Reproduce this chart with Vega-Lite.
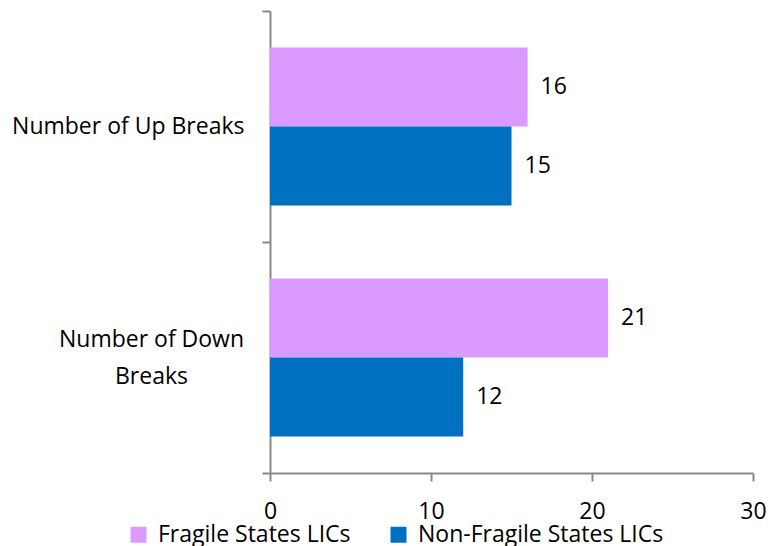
{
  "$schema": "https://vega.github.io/schema/vega-lite/v6.json",
  "width": 483,
  "height": 462,
  "autosize": {"type": "none"},
  "padding": {"left": 270, "top": 11, "right": 25, "bottom": 73},
  "background": "white",
  "config": {
    "font": "Open Sans",
    "view": {"stroke": null},
    "axis": {"grid": false, "domainColor": "#888888", "tickColor": "#888888", "domainWidth": 2, "tickWidth": 2, "tickSize": 8, "labelFont": "Open Sans", "labelFontSize": 23, "labelColor": "#000000", "title": null}
  },
  "data": {
    "values": [
      {"category": "Number of Up Breaks", "group": "Fragile States LICs", "value": 16},
      {"category": "Number of Up Breaks", "group": "Non-Fragile States LICs", "value": 15},
      {"category": "Number of Down Breaks", "group": "Fragile States LICs", "value": 21},
      {"category": "Number of Down Breaks", "group": "Non-Fragile States LICs", "value": 12}
    ]
  },
  "encoding": {
    "y": {
      "field": "category",
      "type": "nominal",
      "sort": ["Number of Up Breaks", "Number of Down Breaks"],
      "scale": {"paddingInner": 0, "paddingOuter": 0},
      "axis": {
        "tickBand": "extent",
        "labelExpr": "datum.value == 'Number of Down Breaks' ? ['Number of Down', 'Breaks'] : datum.value",
        "labelAlign": {"condition": {"test": "datum.value == 'Number of Down Breaks'", "value": "center"}, "value": "right"},
        "labelPadding": {"condition": {"test": "datum.value == 'Number of Down Breaks'", "value": 111}, "value": 18},
        "labelOffset": {"condition": {"test": "datum.value == 'Number of Down Breaks'", "value": -18}, "value": 0},
        "labelLineHeight": 37,
        "labelLimit": 300
      }
    },
    "yOffset": {
      "field": "group",
      "type": "nominal",
      "sort": ["Fragile States LICs", "Non-Fragile States LICs"],
      "scale": {"paddingInner": 0, "paddingOuter": 0.462}
    },
    "x": {
      "field": "value",
      "type": "quantitative",
      "scale": {"domain": [0, 30], "nice": false},
      "axis": {"values": [0, 10, 20, 30], "labelPadding": 19, "labelFlush": false}
    }
  },
  "layer": [
    {
      "mark": {"type": "bar"},
      "encoding": {
        "color": {
          "field": "group",
          "type": "nominal",
          "sort": ["Fragile States LICs", "Non-Fragile States LICs"],
          "scale": {"domain": ["Fragile States LICs", "Non-Fragile States LICs"], "range": ["#DB9AFF", "#0070C0"]},
          "legend": {
            "title": null,
            "orient": "none",
            "direction": "horizontal",
            "legendX": -143,
            "legendY": 512,
            "symbolType": "square",
            "symbolSize": 256,
            "symbolStrokeWidth": 0,
            "labelFontSize": 23,
            "labelFont": "Open Sans",
            "labelColor": "#000000",
            "labelOffset": 8,
            "columnPadding": 36,
            "labelLimit": 400
          }
        }
      }
    },
    {
      "mark": {"type": "text", "align": "left", "baseline": "middle", "dx": 13, "fontSize": 23, "font": "Open Sans", "color": "#000000"},
      "encoding": {"text": {"field": "value", "type": "quantitative"}}
    }
  ]
}
